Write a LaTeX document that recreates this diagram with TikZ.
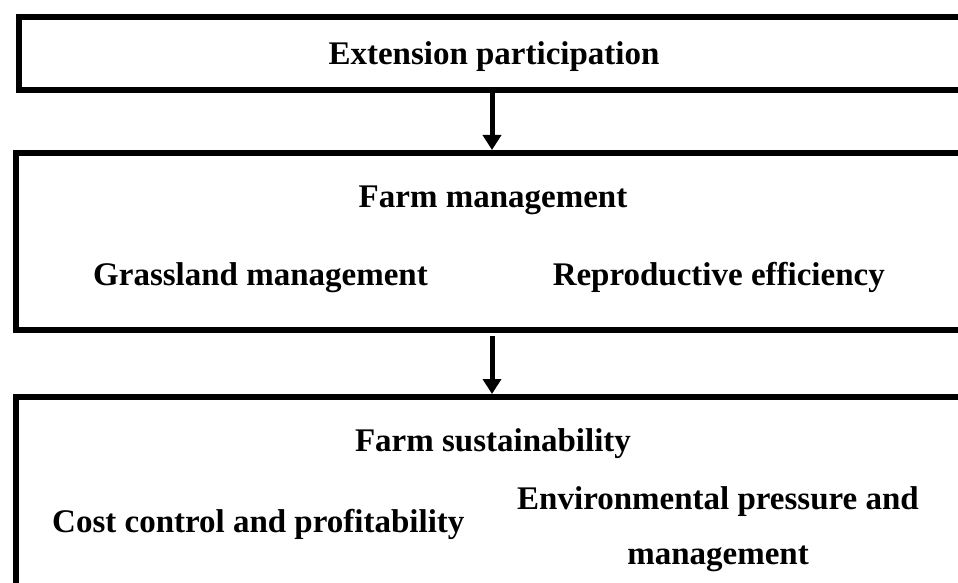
\documentclass[tikz,border=0pt]{standalone}
\usepackage{fontspec}
\setmainfont{Liberation Serif}
\usetikzlibrary{arrows.meta}

\begin{document}
\begin{tikzpicture}[x=1pt, y=-1pt,
  box/.style={draw, line width=6pt, rectangle, anchor=north west, inner sep=0pt},
  lbl/.style={font=\fontsize{33}{55}\selectfont\bfseries, inner sep=0pt},
  flow/.style={-{Triangle[width=18pt,length=15pt]}, line width=5pt}]
\useasboundingbox (0,0) rectangle (958,583);
\clip (0,0) rectangle (958,583);

% the three stages, running off the right (and bottom) edge
\node[box, minimum width=1000pt, minimum height=73pt] (ext) at (16,14) {};
\node[box, minimum width=1000pt, minimum height=177pt] (mgmt) at (13,150) {};
\node[box, minimum width=1000pt, minimum height=250pt] (sust) at (13,394) {};

\node[lbl, anchor=base] (extT) at (494,65) {Extension participation};

\node[lbl, anchor=base] (mgmtT) at (493,207) {Farm management};
\node[lbl, anchor=base west] (grass) at (93,285) {Grassland management};
\node[lbl, anchor=base east] (repro) at (885,285) {Reproductive efficiency};

\node[lbl, anchor=base] (sustT) at (493,451) {Farm sustainability};
\node[lbl, anchor=base west] (cost) at (52,532) {Cost control and profitability};
\node[lbl, anchor=north, align=center] (env) at (718,486) {Environmental pressure and\\management};

% links between the stages
\coordinate (spine) at (492,0);
\draw[flow] (ext.south -| spine) -- (mgmt.north -| spine);
\draw[flow] ([yshift=-3pt]mgmt.south -| spine) -- (sust.north -| spine);
\end{tikzpicture}
\end{document}
